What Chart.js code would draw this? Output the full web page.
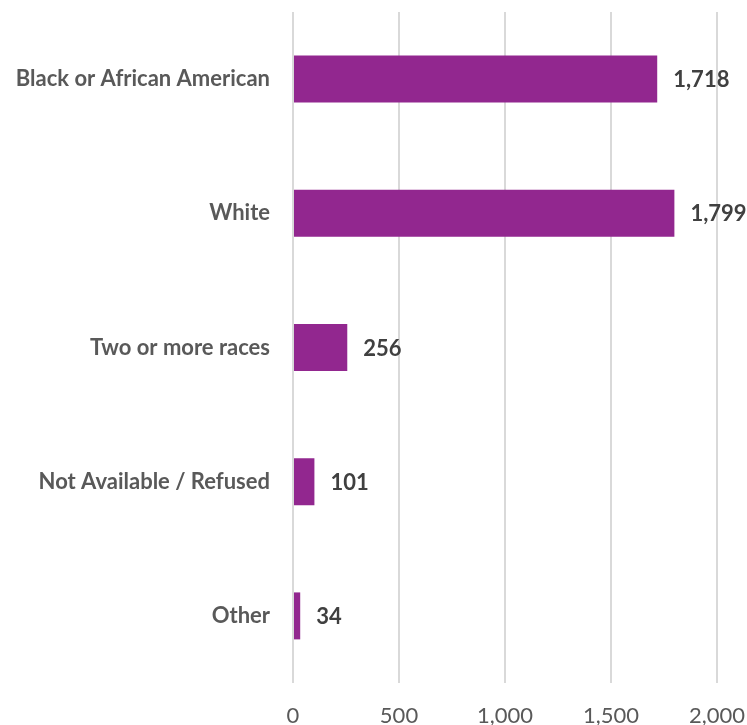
<!DOCTYPE html>
<html>
<head>
<meta charset="utf-8">
<script src="https://cdn.jsdelivr.net/npm/chart.js@4/dist/chart.umd.min.js"></script>
<style>
  html, body { margin: 0; padding: 0; background: #fff; }
  #wrap { width: 747px; height: 725px; position: relative; }
</style>
</head>
<body>
<div id="wrap"><canvas id="chart"></canvas></div>
<script>
// Répartition par race
const categories = [
  'Black or African American',
  'White',
  'Two or more races',
  'Not Available / Refused',
  'Other'
]
const counts = [1718, 1799, 256, 101, 34]
const xTicks = [0, 500, 1000, 1500, 2000]

const BAR_COLOR = '#92278F'
const FONT = 'Lato, "Open Sans", sans-serif'

const fmt = (v) => v.toLocaleString('en-US')

// Pas de marge automatique : la zone du graphe est fixée par layout.padding
const noScalePadding = (scale) => {
  scale.paddingLeft = 0
  scale.paddingRight = 0
  scale.paddingTop = 0
  scale.paddingBottom = 0
}

// Étiquettes de valeur à droite des barres
const valueLabels = {
  id: 'valueLabels',
  afterDatasetsDraw(chart) {
    const { ctx } = chart
    const meta = chart.getDatasetMeta(0)
    ctx.save()
    ctx.font = 'bold 22px ' + FONT
    ctx.fillStyle = '#404040'
    ctx.textAlign = 'left'
    ctx.textBaseline = 'middle'
    meta.data.forEach((bar, i) => {
      ctx.fillText(fmt(counts[i]), bar.x + 16, bar.y + 1)
    })
    ctx.restore()
  }
}

new Chart(document.getElementById('chart'), {
  type: 'bar',
  data: {
    labels: categories,
    datasets: [{
      data: counts,
      backgroundColor: BAR_COLOR,
      borderWidth: 0,
      barPercentage: 0.35,
      categoryPercentage: 1
    }]
  },
  options: {
    indexAxis: 'y',
    responsive: true,
    maintainAspectRatio: false,
    animation: false,
    layout: { padding: { top: 12, right: 30, left: 0, bottom: 0 } },
    plugins: {
      legend: { display: false },
      tooltip: { enabled: false }
    },
    scales: {
      x: {
        min: 0,
        max: 2000,
        afterBuildTicks: (scale) => {
          scale.ticks = xTicks.map((v) => ({ value: v }))
        },
        afterFit: (scale) => {
          scale.height = 42
          noScalePadding(scale)
        },
        border: { display: false },
        grid: { color: '#d9d9d9', lineWidth: 2, drawTicks: false },
        ticks: {
          padding: 20,
          color: '#595959',
          font: { family: FONT, size: 22 },
          callback: (v) => fmt(v)
        }
      },
      y: {
        afterFit: (scale) => {
          scale.width = 293
          noScalePadding(scale)
        },
        border: { display: false },
        grid: { display: false, drawTicks: false },
        ticks: {
          padding: 23,
          color: '#595959',
          font: { family: FONT, size: 22, weight: 'bold' }
        }
      }
    }
  },
  plugins: [valueLabels]
})
</script>
</body>
</html>
